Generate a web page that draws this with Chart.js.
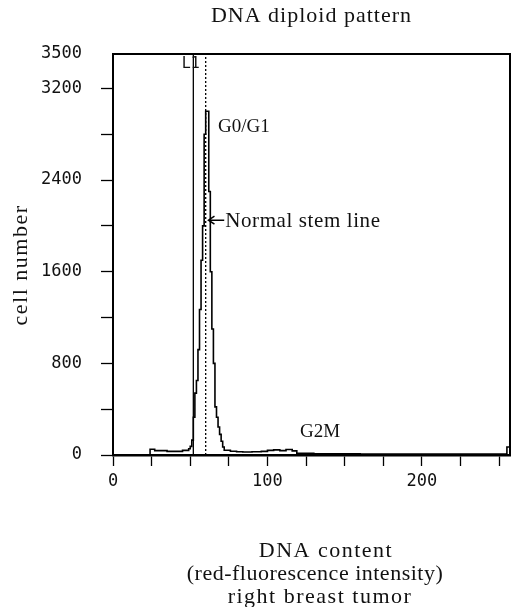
<!DOCTYPE html>
<html>
<head>
<meta charset="utf-8">
<script src="https://cdn.jsdelivr.net/npm/chart.js@4/dist/chart.umd.min.js"></script>
<style>
  html, body { margin: 0; padding: 0; background: #fff; }
  #wrap { width: 512px; height: 607px; }
</style>
</head>
<body>
<div id="wrap"><canvas id="c" width="512" height="607"></canvas></div>
<script>
// histogram: channel where a step starts, and its count
const channels = [0, 24, 27, 35, 45, 49, 50, 51, 52, 53, 54, 55, 56, 57, 58, 59, 60, 62, 63, 64, 65, 66, 67, 68, 69, 70, 71, 72, 76, 80, 84, 90, 96, 100, 104, 108, 112, 116, 119, 130, 160, 200, 240, 255, 257]
const counts = [0, 50, 38, 32, 40, 55, 75, 130, 330, 540, 650, 920, 1270, 1700, 2000, 2800, 3000, 2300, 1600, 1100, 800, 420, 330, 245, 180, 120, 70, 42, 33, 28, 26, 28, 32, 40, 45, 38, 48, 36, 14, 10, 8, 8, 8, 70, 70]

const yTicks = [0, 400, 800, 1200, 1600, 2000, 2400, 2800, 3200, 3500]
const yLabels = [0, 800, 1600, 2400, 3200, 3500]
const xTicks = [0, 25, 50, 75, 100, 125, 150, 175, 200, 225, 250]
const xLabels = [0, 100, 200]

const markerL1 = 52      // solid gate line
const markerPeak = 60    // dotted line on G0/G1 mode

const title = "DNA diploid pattern"
const yTitle = "cell number"
const bottomLines = ["DNA content", "(red-fluorescence intensity)", "right breast tumor"]

const serif = "'Liberation Serif', 'Times New Roman', serif"
const mono = "'DejaVu Sans Mono', monospace"

const textPlugin = {
  id: "texts",
  afterDraw(chart) {
    const { ctx, chartArea: a, scales: { x, y } } = chart
    ctx.save()
    ctx.fillStyle = "#111"
    ctx.strokeStyle = "#000"

    // frame
    ctx.lineWidth = 2
    ctx.beginPath()
    ctx.moveTo(a.left, a.bottom)
    ctx.lineTo(a.left, a.top)
    ctx.lineTo(a.right, a.top)
    ctx.lineTo(a.right, a.bottom)
    ctx.stroke()

    ctx.textAlign = "center"
    ctx.textBaseline = "alphabetic"
    ctx.font = "22px " + serif
    ctx.letterSpacing = "1px"
    ctx.fillText(title, (a.left + a.right) / 2, 22)

    ctx.letterSpacing = "1.5px"
    ctx.fillText(bottomLines[0], 326, 557)
    ctx.letterSpacing = "0.5px"
    ctx.fillText(bottomLines[1], 315, 580)
    ctx.letterSpacing = "1.5px"
    ctx.fillText(bottomLines[2], 320, 603)

    ctx.save()
    ctx.translate(21, 265)
    ctx.rotate(-Math.PI / 2)
    ctx.textBaseline = "middle"
    ctx.letterSpacing = "1.5px"
    ctx.fillText(yTitle, 0, 0)
    ctx.restore()
    ctx.letterSpacing = "0px"

    // annotations placed in data units
    ctx.textAlign = "left"
    ctx.textBaseline = "middle"
    ctx.font = "19px " + serif
    ctx.fillText("G0/G1", x.getPixelForValue(68), y.getPixelForValue(2860))
    ctx.fillText("G2M", x.getPixelForValue(121), y.getPixelForValue(200))

    const tipX = x.getPixelForValue(61.8)
    const tailX = x.getPixelForValue(72)
    const ay = y.getPixelForValue(2050)
    ctx.lineWidth = 1.5
    ctx.beginPath()
    ctx.moveTo(tailX, ay)
    ctx.lineTo(tipX, ay)
    ctx.moveTo(tipX + 6, ay - 4)
    ctx.lineTo(tipX, ay)
    ctx.lineTo(tipX + 6, ay + 4)
    ctx.stroke()
    ctx.font = "21px " + serif
    ctx.letterSpacing = "0.6px"
    ctx.fillText("Normal stem line", tailX + 1, ay + 1)
    ctx.letterSpacing = "0px"

    ctx.font = "15px " + mono
    ctx.textAlign = "center"
    ctx.fillText("L", x.getPixelForValue(markerL1) - 7, y.getPixelForValue(3410))
    ctx.fillText("1", x.getPixelForValue(markerL1) + 2, y.getPixelForValue(3410))
    ctx.restore()
  }
}

new Chart(document.getElementById("c"), {
  type: "line",
  data: {
    datasets: [
      {
        label: "histogram",
        data: channels.map((ch, i) => ({ x: ch, y: counts[i] })),
        stepped: "before",
        borderColor: "#000",
        borderWidth: 1.6,
        pointRadius: 0,
        fill: false
      },
      {
        label: "L1",
        data: [{ x: markerL1, y: 0 }, { x: markerL1, y: 3500 }],
        borderColor: "#000",
        borderWidth: 1.3,
        pointRadius: 0
      },
      {
        label: "peak",
        data: [{ x: markerPeak, y: 0 }, { x: markerPeak, y: 3500 }],
        borderColor: "#000",
        borderWidth: 1.3,
        borderDash: [2, 2],
        pointRadius: 0
      }
    ]
  },
  options: {
    responsive: false,
    animation: false,
    devicePixelRatio: 1,
    layout: { padding: { top: 54, right: 2, left: 0, bottom: 0 } },
    plugins: {
      legend: { display: false },
      tooltip: { enabled: false }
    },
    scales: {
      x: {
        type: "linear",
        min: 0,
        max: 257,
        afterBuildTicks: s => { s.ticks = xTicks.map(v => ({ value: v })) },
        afterFit: s => { s.height = 152 },
        grid: { drawOnChartArea: false, tickLength: 11, tickColor: "#000", tickWidth: 1.3 },
        border: { display: true, color: "#000", width: 2.5 },
        ticks: {
          color: "#111",
          padding: 5,
          maxRotation: 0,
          font: { family: mono, size: 17 },
          callback: v => xLabels.includes(v) ? String(v) : ""
        }
      },
      y: {
        min: 0,
        max: 3500,
        afterBuildTicks: s => { s.ticks = yTicks.map(v => ({ value: v })) },
        afterFit: s => { s.width = 113 },
        grid: {
          drawOnChartArea: false,
          tickLength: 12,
          tickWidth: 1.3,
          tickColor: c => c.tick && c.tick.value === 3500 ? "rgba(0,0,0,0)" : "#000"
        },
        border: { display: true, color: "#000", width: 2 },
        ticks: {
          color: "#111",
          padding: 19,
          font: { family: mono, size: 17 },
          callback: v => yLabels.includes(v) ? String(v) : ""
        }
      }
    }
  },
  plugins: [textPlugin]
})
</script>
</body>
</html>
